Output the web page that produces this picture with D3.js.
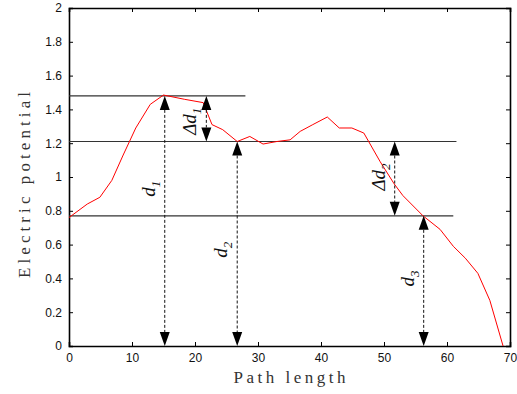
<!DOCTYPE html>
<html lang="en">
<head>
  <meta charset="UTF-8">
  <title>Electric potential</title>
  <script src="https://d3js.org/d3.v7.min.js"></script>
  <style>
    body { margin: 0; background: #fff; }
    svg { display: block; }
    .tick-label { font-family: "Liberation Sans", Arial, sans-serif; font-size: 12px; fill: #111; }
    .axis-title { font-family: "Liberation Serif", "Times New Roman", serif; font-size: 17px; fill: #333; }
    .anno { font-family: "Liberation Serif", "Times New Roman", serif; font-style: italic; font-size: 19px; fill: #111; }
  </style>
</head>
<body>
<svg width="517" height="394"></svg>
<script>
// === Data ===
const pathLength = [0, 2.9, 4.9, 6.8, 8.6, 10.6, 12.9, 15.0, 18.3, 21.3, 22.7, 24.4, 26.7, 28.7, 30.8, 33.0,
  35.1, 36.7, 38.7, 41.0, 42.9, 44.9, 46.8, 49.4, 51.6, 53.0, 56.2, 58.9, 61.0, 62.9, 64.9, 66.8, 68.9];
const potential = [0.76, 0.84, 0.88, 0.98, 1.13, 1.29, 1.43, 1.485, 1.46, 1.44, 1.31, 1.28, 1.21, 1.24, 1.195, 1.21,
  1.22, 1.27, 1.31, 1.355, 1.29, 1.29, 1.26, 1.09, 0.96, 0.89, 0.77, 0.69, 0.59, 0.52, 0.43, 0.27, 0];

const xTicks = [0, 10, 20, 30, 40, 50, 60, 70];
const yTicks = [0, 0.2, 0.4, 0.6, 0.8, 1, 1.2, 1.4, 1.6, 1.8, 2];

// reference levels: value and where the line stops
const levelValues = [1.48, 1.21, 0.77];
const levelEnds = [28, 61.5, 61];

// double arrows: x position, from, to, label, subscript, label height
const arrowX = [15.2, 26.7, 56.3, 21.8, 51.7];
const arrowFrom = [0, 0, 0, 1.21, 0.77];
const arrowTo = [1.48, 1.21, 0.77, 1.48, 1.21];
const arrowName = ["d", "d", "d", "\u0394d", "\u0394d"];
const arrowSub = ["1", "2", "3", "1", "2"];
const arrowLabelY = [0.93, 0.57, 0.40, 1.33, 1.0];

// === Layout ===
const svg = d3.select("svg");
const margin = { top: 8, right: 7, bottom: 48, left: 69 };
const W = 517, H = 394;
const iw = W - margin.left - margin.right;
const ih = H - margin.top - margin.bottom;

const x = d3.scaleLinear().domain([0, 70]).range([0, iw]);
const y = d3.scaleLinear().domain([0, 2]).range([ih, 0]);

const g = svg.append("g").attr("transform", `translate(${margin.left},${margin.top})`);

// === Axes (ticks inside, on all four sides) ===
const fmt = d => d3.format("")(+d.toFixed(1));
g.append("g").attr("transform", `translate(0,${ih})`)
  .call(d3.axisBottom(x).tickValues(xTicks).tickSize(-4).tickPadding(7).tickFormat(fmt));
g.append("g")
  .call(d3.axisLeft(y).tickValues(yTicks).tickSize(-4).tickPadding(7).tickFormat(fmt));
g.append("g")
  .call(d3.axisTop(x).tickValues(xTicks).tickSize(-4).tickFormat(""));
g.append("g").attr("transform", `translate(${iw},0)`)
  .call(d3.axisRight(y).tickValues(yTicks).tickSize(-4).tickFormat(""));

g.selectAll(".domain").attr("stroke", "#000").attr("stroke-width", 1.6);
g.selectAll(".tick line").attr("stroke", "#000");
g.selectAll(".tick text").attr("class", "tick-label").attr("font-size", null).attr("font-family", null);

// === Level lines ===
g.append("g").selectAll("line")
  .data(levelValues)
  .join("line")
  .attr("x1", x(0))
  .attr("x2", (d, i) => x(levelEnds[i]))
  .attr("y1", d => y(d))
  .attr("y2", d => y(d))
  .attr("stroke", "#333")
  .attr("stroke-width", 1.2);

// === Curve ===
const pts = pathLength.map((v, i) => [v, potential[i]]);
g.append("path")
  .datum(pts)
  .attr("fill", "none")
  .attr("stroke", "#ff0000")
  .attr("stroke-width", 1)
  .attr("d", d3.line().x(d => x(d[0])).y(d => y(d[1])));

// === Double arrows ===
const aw = 5, ah = 14;
const arrows = g.append("g").selectAll("g")
  .data(arrowX)
  .join("g");

arrows.append("line")
  .attr("x1", d => x(d)).attr("x2", d => x(d))
  .attr("y1", (d, i) => y(arrowTo[i]) + ah)
  .attr("y2", (d, i) => y(arrowFrom[i]) - ah)
  .attr("stroke", "#111")
  .attr("stroke-width", 1)
  .attr("stroke-dasharray", "3,2");

arrows.append("path")
  .attr("fill", "#000")
  .attr("d", (d, i) => {
    const px = x(d), top = y(arrowTo[i]), bot = y(arrowFrom[i]);
    return `M${px},${top}L${px - aw},${top + ah}L${px + aw},${top + ah}Z` +
           `M${px},${bot}L${px - aw},${bot - ah}L${px + aw},${bot - ah}Z`;
  });

const lab = arrows.append("text")
  .attr("class", "anno")
  .attr("text-anchor", "middle")
  .attr("transform", (d, i) => `translate(${x(d) - 10},${y(arrowLabelY[i])}) rotate(-90)`);
lab.append("tspan").text((d, i) => arrowName[i]);
lab.append("tspan").attr("font-size", 13).attr("dy", 5).text((d, i) => arrowSub[i]);

// === Axis titles (spread to the width of the original monospaced lettering) ===
svg.append("text")
  .attr("class", "axis-title")
  .attr("text-anchor", "middle")
  .attr("x", margin.left + iw / 2)
  .attr("y", 383)
  .attr("textLength", 112)
  .attr("lengthAdjust", "spacing")
  .text("Path length");

svg.append("text")
  .attr("class", "axis-title")
  .attr("text-anchor", "middle")
  .attr("transform", `translate(30,${185}) rotate(-90)`)
  .attr("textLength", 186)
  .attr("lengthAdjust", "spacing")
  .text("Electric potential");
</script>
</body>
</html>
